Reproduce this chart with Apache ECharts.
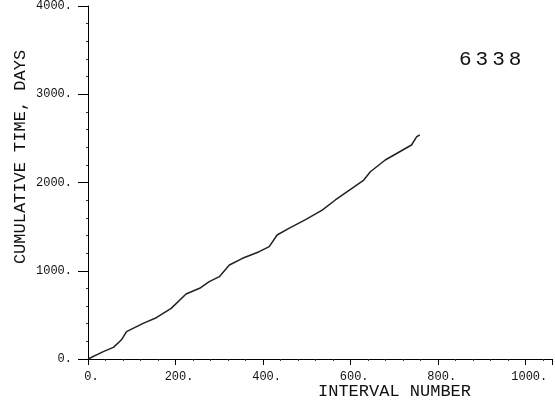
<!DOCTYPE html>
<html>
<head>
<meta charset="utf-8">
<script src="https://cdn.jsdelivr.net/npm/echarts@6/dist/echarts.min.js"></script>
<style>
  body{ margin:0; background:#fff; }
  #chart{ width:555px; height:410px; }
</style>
</head>
<body>
<div id="chart"></div>
<script>
// interval number vs cumulative time (days)
const intervalNo = [0, 35, 58, 76, 88, 126, 156, 190, 224, 255, 277, 300, 323, 353, 391, 414, 432, 459, 497, 535, 565, 603, 630, 645, 679, 739, 751, 758];
const cumDays = [0, 83, 132, 215, 310, 404, 468, 574, 736, 801, 876, 933, 1065, 1141, 1216, 1273, 1405, 1480, 1580, 1688, 1802, 1934, 2028, 2122, 2255, 2425, 2519, 2538];
const xTicks = [0, 200, 400, 600, 800, 1000];
const yTicks = [0, 1000, 2000, 3000, 4000];
const stationId = '6338';

const font = '"Liberation Mono", "DejaVu Sans Mono", monospace';
let chart = echarts.init(document.getElementById('chart'));
// digits spaced out like the plotter lettering
let idText = stationId.split('').map((c, i) => i < stationId.length - 1 ? '{d|' + c + '}' : '{e|' + c + '}').join('');
let option = {
  animation: false,
  grid: { left: 88, right: 0, top: 6, bottom: 51 },
  xAxis: {
    type: 'value',
    min: 0,
    max: 1060,
    interval: 200,
    axisLine: { lineStyle: { color: '#000', width: 1 } },
    axisTick: { length: 6, lineStyle: { color: '#000' } },
    minorTick: { show: true, splitNumber: 5, length: 2, lineStyle: { color: '#333' } },
    splitLine: { show: false },
    axisLabel: {
      margin: 12,
      color: '#111',
      fontFamily: font,
      fontSize: 12,
      padding: [0, 0, 0, 7],
      formatter: v => xTicks.indexOf(v) >= 0 ? v + '.' : ''
    }
  },
  yAxis: {
    type: 'value',
    min: 0,
    max: 4000,
    interval: 1000,
    axisLine: { show: true, lineStyle: { color: '#000', width: 1 } },
    axisTick: { show: true, length: 10, lineStyle: { color: '#000' } },
    minorTick: { show: true, splitNumber: 5, length: 2, lineStyle: { color: '#333' } },
    splitLine: { show: false },
    axisLabel: {
      margin: 16,
      color: '#111',
      fontFamily: font,
      fontSize: 12,
      formatter: v => yTicks.indexOf(v) >= 0 ? v + '.' : ''
    }
  },
  graphic: [
    {
      type: 'text', left: 318, top: 383,
      style: { text: 'INTERVAL NUMBER', font: '17px ' + font, fill: '#111' }
    },
    {
      type: 'text', x: 12, y: 157, rotation: Math.PI / 2,
      style: { text: 'CUMULATIVE TIME, DAYS', font: '17px ' + font, fill: '#111', align: 'center', verticalAlign: 'top' }
    },
    {
      type: 'text', left: 459, top: 49,
      style: {
        text: idText,
        fill: '#111',
        rich: {
          d: { fontFamily: font, fontSize: 21, padding: [0, 4, 0, 0] },
          e: { fontFamily: font, fontSize: 21 }
        }
      }
    }
  ],
  series: [
    {
      type: 'line',
      data: intervalNo.map((x, i) => [x, cumDays[i]]),
      showSymbol: false,
      lineStyle: { color: '#222', width: 1.5 }
    }
  ]
};
chart.setOption(option);
</script>
</body>
</html>
